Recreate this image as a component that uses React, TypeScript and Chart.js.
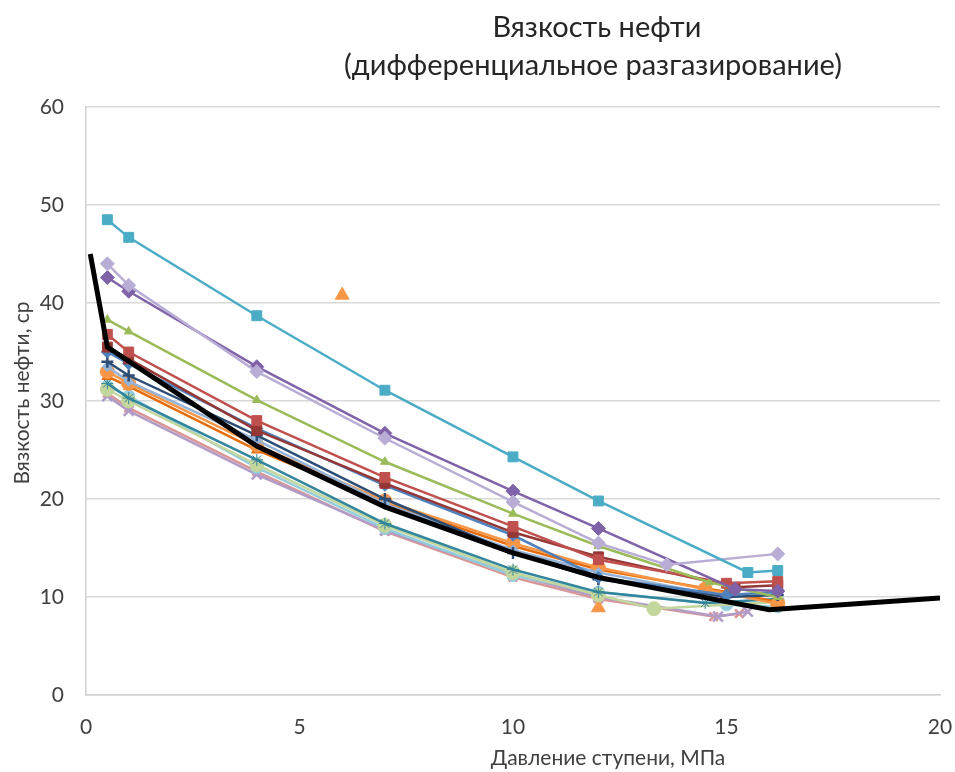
import React, { useEffect, useRef } from "react";
import { Chart, registerables } from "chart.js";
Chart.register(...registerables);

const TITLE_1 = "Вязкость нефти";
const TITLE_2 = "(дифференциальное разгазирование)";
const X_TITLE = "Давление ступени, МПа";
const Y_TITLE = "Вязкость нефти, ср";

// Black reference curve
const avgP = [0.1, 0.5, 4, 7, 10, 12, 16, 20];
const avgV = [45.0, 35.5, 25.4, 19.2, 14.5, 12.0, 8.7, 9.9];

const s1P = [0.5, 1, 4, 7, 10, 12, 15.5, 16.2];
const s1V = [48.5, 46.7, 38.7, 31.1, 24.3, 19.8, 12.5, 12.7];

const s2P = [0.5, 1, 4, 7, 10, 12, 13.6, 16.2];
const s2V = [44.0, 41.8, 33.0, 26.2, 19.7, 15.5, 13.3, 14.4];

const s3P = [0.5, 1, 4, 7, 10, 12, 15.2, 16.2];
const s3V = [42.6, 41.2, 33.5, 26.7, 20.8, 17.0, 10.8, 10.6];

const s4P = [0.5, 1, 4, 7, 10, 12, 14.6, 16.2];
const s4V = [38.3, 37.1, 30.1, 23.8, 18.5, 15.2, 11.5, 10.0];

const s5P = [0.5, 1, 4, 7, 10, 12, 15, 16.2];
const s5V = [36.8, 35.0, 28.0, 22.2, 17.2, 13.8, 11.4, 11.6];

const s6P = [0.5, 1, 4, 7, 10, 12, 15.2, 16.2];
const s6V = [35.5, 34.3, 27.0, 21.6, 16.6, 14.1, 11.0, 11.2];

const s7P = [0.5, 1, 4, 7, 10, 12, 15, 16.2];
const s7V = [35.0, 33.8, 27.2, 21.4, 16.3, 12.0, 10.2, 10.5];

const s8P = [0.5, 1, 4, 7, 10, 12, 15, 16.2];
const s8V = [34.0, 32.6, 26.5, 20.0, 14.5, 11.8, 10.0, 10.2];

const s9P = [0.5, 1, 4, 7, 10, 12, 15, 16.2];
const s9V = [33.5, 32.0, 26.0, 19.5, 14.8, 12.5, 10.0, 10.3];

const s10P = [0.5, 1, 4, 7, 10, 12, 14.5, 16.2];
const s10V = [33.0, 31.8, 25.5, 19.8, 15.5, 13.0, 10.8, 9.3];

const s11P = [0.5, 1, 4, 7, 10, 12, 15, 16.2];
const s11V = [32.5, 31.5, 25.0, 19.6, 15.2, 12.8, 10.5, 9.5];

const s12P = [0.5, 1, 4, 7, 10, 12, 14.5, 16.2];
const s12V = [31.8, 30.3, 24.0, 17.5, 12.8, 10.5, 9.4, 9.8];

const s13P = [0.5, 1, 4, 7, 10, 12, 13.3, 16.2];
const s13V = [31.2, 30.0, 23.5, 17.3, 12.5, 10.2, 8.8, 9.5];

const s14P = [0.5, 1, 4, 7, 10, 12, 15, 16.2];
const s14V = [31.5, 30.5, 23.2, 17.0, 12.2, 10.5, 9.2, 9.0];

const s15P = [0.5, 1, 4, 7, 10, 12, 14.8, 15.5];
const s15V = [30.5, 29.0, 22.5, 16.8, 12.3, 10.0, 8.0, 8.5];

const s16P = [0.5, 1, 4, 7, 10, 12, 14.7, 15.3];
const s16V = [30.8, 29.3, 22.8, 16.7, 12.0, 9.8, 8.0, 8.3];

// Isolated points (markers only)
const s17P = [6, 12, 16.2];
const s17V = [40.8, 8.9, 9.2];

type S = { p: number[]; v: number[]; color: string; style: string; r?: number; line?: boolean };

const SERIES: S[] = [
  { p: s1P, v: s1V, color: "#4BACC6", style: "rect", r: 7 },
  { p: s2P, v: s2V, color: "#B9ADD6", style: "rectRot", r: 7 },
  { p: s3P, v: s3V, color: "#7F62A8", style: "rectRot", r: 7 },
  { p: s4P, v: s4V, color: "#9BBB59", style: "triangle", r: 5 },
  { p: s5P, v: s5V, color: "#C0504D", style: "rect", r: 7 },
  { p: s6P, v: s6V, color: "#953735", style: "rect", r: 7 },
  { p: s7P, v: s7V, color: "#4F81BD", style: "rectRot", r: 6 },
  { p: s8P, v: s8V, color: "#2C4D75", style: "cross", r: 6 },
  { p: s9P, v: s9V, color: "#95B3D7", style: "rectRot", r: 5 },
  { p: s10P, v: s10V, color: "#F79646", style: "circle", r: 7 },
  { p: s11P, v: s11V, color: "#E46C0A", style: "triangle", r: 6 },
  { p: s12P, v: s12V, color: "#31859C", style: "star", r: 6 },
  { p: s13P, v: s13V, color: "#C3D69B", style: "circle", r: 7 },
  { p: s14P, v: s14V, color: "#93CDDD", style: "circle", r: 6 },
  { p: s15P, v: s15V, color: "#B19CC8", style: "crossRot", r: 7 },
  { p: s16P, v: s16V, color: "#D99694", style: "crossRot", r: 6 },
  { p: s17P, v: s17V, color: "#F79646", style: "triangle", r: 8, line: false },
];

const FONT = "Lato, 'Open Sans', sans-serif";

export default function App() {
  const ref = useRef<HTMLCanvasElement | null>(null);
  useEffect(() => {
    document.body.style.margin = "0";
    const ctx = ref.current!.getContext("2d")!;
    const datasets: any[] = [
      {
        data: avgP.map((x, i) => ({ x, y: avgV[i] })),
        borderColor: "#000000",
        backgroundColor: "#000000",
        borderWidth: 5,
        pointRadius: 0,
        showLine: true,
      },
    ];
    SERIES.forEach((s) => {
      datasets.push({
        data: s.p.map((x, i) => ({ x, y: s.v[i] })),
        borderColor: s.color,
        backgroundColor: s.color,
        borderWidth: 2.5,
        pointStyle: s.style,
        pointRadius: s.r ?? 5,
        pointBorderWidth: s.style === "cross" || s.style === "crossRot" ? 2.5 : 1,
        showLine: s.line !== false,
      });
    });

    const textPlugin = {
      id: "customTexts",
      afterDraw(chart: any) {
        const c = chart.ctx;
        c.save();
        c.fillStyle = "#262626";
        c.textAlign = "center";
        c.textBaseline = "middle";
        c.font = `29px ${FONT}`;
        c.fillText(TITLE_1, 597, 28);
        c.fillText(TITLE_2, 593, 66);
        c.fillStyle = "#404040";
        c.font = `21px ${FONT}`;
        c.fillText(X_TITLE, 608, 758);
        c.translate(22, 393);
        c.rotate(-Math.PI / 2);
        c.fillText(Y_TITLE, 0, 0);
        c.restore();
      },
    };

    const chart = new Chart(ctx, {
      type: "scatter",
      data: { datasets },
      options: {
        animation: false,
        responsive: false,
        layout: { padding: { top: 107, right: 0, bottom: 0, left: 0 } },
        plugins: { legend: { display: false }, tooltip: { enabled: false }, title: { display: false } },
        scales: {
          x: {
            type: "linear",
            min: 0,
            max: 20,
            ticks: { stepSize: 5, color: "#404040", font: { family: FONT, size: 21 }, padding: 20 },
            grid: { display: false, drawTicks: false },
            border: { display: true, color: "#D0D0D0", width: 1.5 },
            afterFit: (scale: any) => {
              scale.height = 77;
              scale.paddingRight = 15;
              scale.paddingLeft = 0;
            },
          },
          y: {
            type: "linear",
            min: 0,
            max: 60,
            ticks: { stepSize: 10, color: "#404040", font: { family: FONT, size: 21 }, padding: 22 },
            grid: { color: "#D9D9D9", lineWidth: 1.5, drawTicks: false },
            border: { display: true, color: "#D0D0D0", width: 1.5 },
            afterFit: (scale: any) => {
              scale.width = 86;
            },
          },
        },
      },
      plugins: [textPlugin],
    });
    return () => chart.destroy();
  }, []);
  return (
    <div style={{ width: 955, height: 772, background: "#fff" }}>
      <canvas ref={ref} width={955} height={772} style={{ display: "block" }} />
    </div>
  );
}
